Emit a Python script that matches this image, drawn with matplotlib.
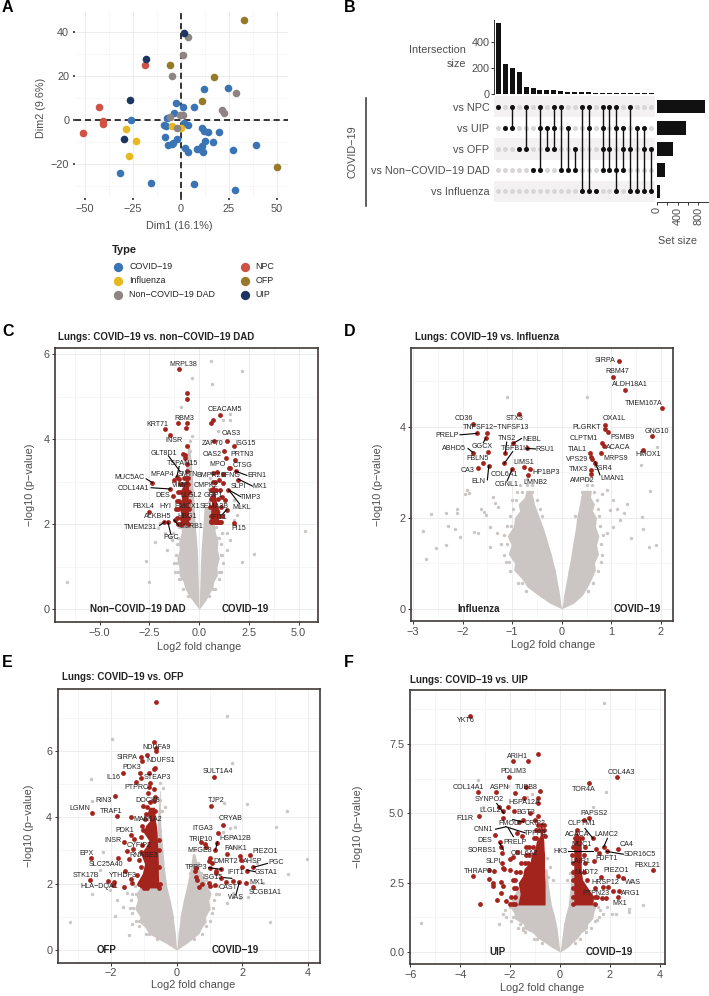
import numpy as np
import matplotlib
matplotlib.use('Agg')
import matplotlib.pyplot as plt
from matplotlib.ticker import MultipleLocator

plt.rcParams['font.family'] = ['Liberation Sans', 'DejaVu Sans']
plt.rcParams['axes.unicode_minus'] = True

W, H = 709, 996
GREY = '#cbc6c3'
RED = '#a3231d'
TXT = '#4d4d4d'

# panel A, PCA scores
pca_types = ['COVID\u221219', 'Influenza', 'Non\u2212COVID\u221219 DAD', 'NPC', 'OFP', 'UIP']
pca_colors = ['#3b74b5', '#e8b820', '#8d8583', '#cf5247', '#97792a', '#1c3661']
pca_x = [
    [12.2, 24.8, 1.0, 6.8, -2.6, -3.5, -26, -7.3, -8.9, -7.8, -8.3, -2.1, -6.4, -4.7, -3.8, 2.4, 4, 8.3, 10, 11.5,
     10.9, 12.5, 16.7, 20.1, 14.4, 11.3, 12.3, 3.6, 1.9, 39.2, 27.1, -31.8, -15.3, 6.9, 28.1],
    [-28.6, -23.4, -27.1, -4.3, 0.2],
    [4, 1, -4.5, 29, 21.4, 22.4, -5.6, 1.4, -0.3, -2.1],
    [-18.8, -42.5, -40.3, -40.6, -50.9],
    [33, -5.7, 17.5, 11.3, 50.3],
    [-18, 1.7, -26.6, -29.5],
]
pca_y = [
    [13.9, 14.5, 6.0, 5.7, 7.5, 3.3, 0, 0.9, -2.3, -2.7, -7.7, -8.7, -11.5, -10.9, -10.3, -12.8, -14.5, -13.3, -13.1, -14.5,
     -11.6, -9.4, -10.1, -5.6, -5.6, -3.6, -4.8, -2.1, -1.2, -11.2, -13.4, -23.8, -28.4, -29.1, -31.5],
    [-3.9, -9.5, -16.3, -2.6, -3.8],
    [37.7, 29.3, 19.9, 12.1, 4.4, 3.3, 1.5, 2.1, 2.3, -3.8],
    [24.9, 5.7, -0.3, -1.8, -5.7],
    [45.2, 25, 19.3, 8.4, -21.3],
    [27.8, 39.5, 9, -8.4],
]

# panel B, upset plot
set_names = ['vs NPC', 'vs UIP', 'vs OFP', 'vs Non\u2212COVID\u221219 DAD', 'vs Influenza']
set_sizes = [920, 570, 315, 150, 50]
inter_sizes = [540, 225, 200, 165, 55, 45, 30, 30, 25, 18, 15, 12, 12, 10, 8, 8, 7, 7, 6, 5, 5, 4, 3]
inter_members = [[0], [1], [0, 1], [2], [0, 2], [3], [0, 1, 3], [1, 2], [0, 1, 2], [0, 3], [1, 3], [2, 3],
                 [0, 4], [0, 1, 4], [4], [0, 1, 2, 3], [0, 2, 3], [0, 1, 3, 4], [1, 2, 3], [0, 2, 4], [1, 4],
                 [1, 2, 4], [2, 4]]

# panel C, volcano
c_grey_x = [.59, 2.14, -.35, .65, -.89, 1.56, 1.2, 1.56, .95, -.37, -.45, 5.34, 2.78, 2.14, -2.65, -6.65, -2.51, -2.21,
            1.93, 2.03, 1.73, -1.96, -2.06, -1.71, -1.46, -1.62, -1.37, -1.29, 1.56, 1.39, 1.14, 1.39, 1.73]
c_grey_y = [5.85, 5.61, 5.44, 5.30, 4.75, 4.59, 4.45, 4.45, 4.2, 4.08, 3.95, 1.85, 1.29, 1.11, 1.13, .64, .65, 1.58,
            2.22, 2.44, 2.57, 2.02, 1.91, 1.79, 1.71, 1.4, 1.63, 1.79, 1.63, 1.4, 1.79, 1.79, 2.1]
c_grey_rows = {.32: [-.55, -.48, .52], .47: [-.82, .8, .72], .71: [-1.03, -.94, 1.0], .88: [-1.2, -1.07, 1.12, 1.02],
               1.1: [-1.25, -1.13, 1.2], 1.27: [-1.16, 1.09, 1.17], 1.53: [-1.12, -.99, 1.1], 1.68: [-1.05, .91, 1.01],
               1.93: [-1.0, -.87, .84], 2.2: [-.48, .42, .78, .86], 2.52: [-.43, .48], 2.83: [-.4, .5],
               3.1: [-.46, .55], 3.4: [-.45], 3.72: [-.47]}
c_red_x = [-1.02, -.59, -.6, -1.07, -.6, -.64, -1.73, -1.47, -.62, -.79, -.69, -.7, -.59, -1.12, -1.26, -1.02, -2.35,
           -1.44, -1.31, -2.5, -1.74, -1.54, -1.22, 1.07, .72, .59, .75, 1.39, 1.73, 1.27, 1.37, 1.81, 1.49, 1.55,
           .69, .92, 1.22, 1.83, 1.98, 1.02, 1.22, .72, 1.06, 1.47, 1.14, .64, 1.32, 1.39, 1.74, .59, .75, 1.11, .89]
c_red_y = [5.65, 5.10, 4.95, 4.38, 4.38, 4.27, 4.24, 4.09, 3.83, 3.65, 3.63, 3.55, 3.42, 3.12, 3.04, 3.07, 2.98,
           2.83, 2.67, 2.30, 2.05, 2.05, 2.10, 4.57, 4.45, 4.38, 3.95, 3.97, 3.85, 3.73, 3.57, 3.51, 3.33, 3.33,
           3.2, 3.22, 3.18, 3.25, 3.04, 3.04, 2.96, 2.82, 2.81, 2.81, 2.63, 2.63, 2.56, 2.34, 2.02, 2.08, 2.08, 2.05, 2.18]
c_red_rows = {2.0: [-1.05, -.95, -.85, -.55], 2.15: [-1.1, -.9, -.55], 2.35: [-1.15, -1.08, -.52], 2.55: [-1.1, -1.0, -.52], 2.75: [-1.05, -.98, -.52],
              2.95: [-.95, -.85, -.55], 3.1: [-.75, -.65, -.55], 3.25: [-.6], 2.05: [1.05, .95, .85, .6], 2.2: [1.15, 1.0, .6], 2.4: [1.1, .55],
              2.6: [.95, .6], 2.8: [.85, .62], 3.0: [.7, .8]}
c_cloud = {'y': [0, .2, .35, .5, .65, .8, 1.0, 1.2, 1.4, 1.6, 1.8, 2.0, 2.5, 3.0, 3.5, 3.9],
           'lo': [0, -.32, -.55, -.72, -.8, -1.0, -1.02, -1.12, -1.0, -1.02, -.9, -.88, -.75, -.7, -.65, -.55],
           'li': [0, -.02, -.02, -.03, -.04, -.05, -.06, -.07, -.09, -.12, -.16, -.2, -.25, -.32, -.4, -.48],
           'ry': [0, .2, .35, .5, .65, .8, 1.0, 1.2, 1.4, 1.6, 1.8, 2.0, 2.4],
           'ri': [0, .02, .02, .03, .04, .05, .06, .08, .1, .13, .16, .2, .25],
           'ro': [0, .32, .5, .68, .74, .92, .9, 1.02, .92, .95, .82, .78, .6]}
c_dense = {'ly': [2.0, 2.2, 2.4, 2.6, 2.8, 3.0, 3.1], 'lo': [-.98, -.9, -1.0, -.88, -.92, -.72, -.62],
           'li': [-.52, -.54, -.52, -.55, -.52, -.54, -.52],
           'ry': [2.0, 2.15, 2.3, 2.45, 2.6, 2.75, 2.9], 'ri': [.58, .62, .58, .62, .62, .66, .66], 'ro': [1.08, .95, 1.05, .9, .85, .8, .76]}
c_labels = [('MRPL38', -.8, 5.76), ('CEACAM5', 1.29, 4.69), ('RBM3', -.75, 4.5), ('KRT71', -2.09, 4.35), ('OAS3', 1.62, 4.13),
            ('INSR', -1.26, 3.97), ('ZAP70', .67, 3.89), ('ISG15', 2.36, 3.89), ('GLT8D1', -1.78, 3.66), ('OAS2', .64, 3.65),
            ('PRTN3', 2.16, 3.65), ('TSPAN15', -.85, 3.43), ('MPO', .94, 3.4), ('CTSG', 2.16, 3.38), ('MFAP4', -1.86, 3.18),
            ('SMTN', -.55, 3.18), ('BMPR2', .5, 3.15), ('EFNG', 1.59, 3.14), ('ERN1', 2.9, 3.14), ('MUC5AC', -3.5, 3.1),
            ('COL14A1', -3.3, 2.85), ('VIMP', -.9, 2.92), ('CMPK2', .36, 2.92), ('SLPI', 1.96, 2.89), ('MX1', 3.07, 2.89),
            ('DES', -1.83, 2.67), ('LLGL2', -.39, 2.67), ('GRP1', .72, 2.67), ('TIMP3', 2.58, 2.64), ('FBXL4', -2.81, 2.42),
            ('HYI', -1.68, 2.43), ('HMOX1', -.6, 2.43), ('SEMA3B', .74, 2.42), ('MLKL', 2.13, 2.4), ('ALKBH5', -2.09, 2.18),
            ('HBG1', -.62, 2.18), ('IFIT1', .97, 2.16), ('TMEM231', -2.93, 1.93), ('LILRB1', -.39, 1.94), ('PI15', 1.99, 1.9),
            ('PGC', -1.42, 1.69)]
c_links = [(-1.54, 3.61, -.95, 3.24), (-1.0, 3.36, -1.12, 3.12), (-2.66, 3.07, -2.35, 2.98), (-2.41, 2.86, -1.44, 2.83),
           (2.4, 3.15, 1.83, 3.25), (2.68, 2.9, 1.98, 3.06), (2.09, 2.65, 1.56, 2.79), (2.03, 2.48, 1.49, 2.81),
           (-1.99, 1.97, -1.74, 2.05), (-1.42, 1.77, -1.57, 2.05), (-1.04, 1.98, -1.26, 2.1), (1.19, 2.24, 1.39, 2.35)]

# panel D, volcano
d_grey_x = [-1.1, .51, -2.79, -2.73, -2.63, -2.34, -2.11, -2.11, -2.53, -2.3, -2.34, -2.16, -2.05, -1.92, -1.95, -1.88, -1.77,
            -1.68, -1.62, -1.57, -1.52, -1.38, -1.35, -1.28, -1.45, -1.31, -1.45, 1.59, 1.93, 1.78, 1.62, 1.64, 1.39, 1.76,
            1.91, 1.11, 1.18, 1.31, 1.25, 1.04, 1.04, .91, .98, .81, .91]
d_grey_y = [4.64, 4.66, 1.71, 1.1, 2.09, 2.1, 2.2, 2.11, 1.33, 1.82, 1.41, 1.74, 1.58, 2.61, 2.53, 2.55, 1.69,
            1.67, 2.2, 2.13, 2.06, 2.46, 2.32, 2.24, 1.8, 1.66, 1.36, 3.16, 3.55, 2.59, 2.02, 1.76, 1.56, 1.36,
            1.41, 2.2, 1.95, 2.31, 2.1, 2.39, 1.8, 1.66, 2.17, 2.53, 2.61]
d_grey_rows = {.38: [-.72, .53], .57: [-.88, -.8, .64], .83: [-1.04, .74], 1.02: [-1.13, -1.06, .8],
               1.18: [-1.17, .82], 1.42: [-1.22, -1.1, .8], 1.63: [-1.16, .83], 1.82: [-1.1, -1.03, .78],
               2.03: [-1.05, -.4, .76, .26], 2.18: [-.99, -.44, .73], 2.38: [-1.0, -.92, -.5, .72], 2.57: [-.9, -.8, -.6, .66, .5, .4],
               2.72: [-.84, -.7, -.6, .62, .5], 2.86: [-.7, .55, .45]}
d_red_x = [1.16, 1.04, 1.28, 2.02, -.86, -1.78, .88, .88, .94, 1.82, -1.71, -1.51, -1.53, -.98, -.71, .81, .85, 1.64, .79,
           -1.79, -1.48, -1.14, .57, .59, .62, .67, -1.58, -1.16, -1.47, -1.69, -.77, -1, -.65, .59, -.69, .59]
d_red_y = [5.45, 5.10, 4.81, 4.41, 4.28, 4.06, 4.04, 3.95, 3.88, 3.80, 3.85, 3.87, 3.75, 3.63, 3.52, 3.65, 3.58, 3.49, 3.42,
           3.43, 3.45, 3.41, 3.41, 3.34, 3.28, 3.21, 3.2, 3.19, 3.14, 3.09, 3.11, 3.06, 3.06, 3.05, 2.94, 2.95]
d_cloud = {'y': [0, .12, .3, .48, .65, .85, 1.0, 1.2, 1.4, 1.6, 1.8, 2.0, 2.15, 2.3, 2.45, 2.6],
           'lo': [0, -.24, -.48, -.7, -.8, -.97, -.95, -1.08, -1.02, -1.1, -.98, -.95, -.85, -.88, -.75, -.72],
           'li': [0, -.02, -.04, -.07, -.1, -.13, -.17, -.21, -.27, -.32, -.38, -.45, -.5, -.55, -.58, -.62],
           'ry': [0, .12, .3, .48, .65, .85, 1.0, 1.2, 1.4, 1.6, 1.8, 2.0, 2.15, 2.3, 2.45, 2.6],
           'ri': [0, .02, .04, .07, .1, .13, .16, .19, .22, .25, .28, .3, .33, .36, .38, .42],
           'ro': [0, .24, .42, .52, .6, .68, .66, .74, .7, .75, .68, .7, .62, .66, .58, .6]}
d_labels = [('SIRPA', .88, 5.45), ('RBM47', 1.12, 5.21), ('ALDH18A1', 1.37, 4.92), ('TMEM167A', 1.66, 4.51), ('STX3', -.96, 4.17),
            ('CD36', -1.97, 4.18), ('OXA1L', 1.05, 4.18), ('TNFSF12\u2212TNFSF13', -1.33, 3.97), ('PLGRKT', .51, 3.97), ('GNG10', 1.91, 3.9),
            ('PRELP', -2.32, 3.81), ('PSMB9', 1.23, 3.77), ('TNS2', -1.1, 3.74), ('NEBL', -.6, 3.72), ('CLPTM1', .45, 3.74),
            ('GGCX', -1.61, 3.56), ('ACACA', 1.14, 3.54), ('ABHD5', -2.18, 3.53), ('TGFB1I1', -.93, 3.51), ('RSU1', -.34, 3.5),
            ('TIAL1', .32, 3.5), ('HMOX1', 1.75, 3.38), ('MRPS9', 1.08, 3.3), ('FBLN5', -1.69, 3.3), ('VPS29', .3, 3.28),
            ('LIMS1', -.77, 3.22), ('SSR4', .83, 3.08), ('TMX3', .33, 3.05), ('CA3', -1.9, 3.03), ('HP1BP3', -.32, 3.0),
            ('COL6A1', -1.16, 2.95), ('LMAN1', 1.02, 2.85), ('AMPD2', .42, 2.82), ('ELN', -1.68, 2.8), ('LMNB2', -.53, 2.78),
            ('CGNL1', -1.12, 2.73)]
d_links = [(-2.05, 3.82, -1.71, 3.85), (-1.89, 3.52, -1.79, 3.43), (-1.58, 3.65, -1.53, 3.75), (-1.11, 3.66, -1.14, 3.41),
           (-.81, 3.74, -.98, 3.63), (-.99, 3.45, -1.16, 3.19), (-.53, 3.51, -.71, 3.52), (-1.5, 2.83, -1.47, 3.14),
           (-1.1, 2.81, -1, 3.06), (.77, 2.94, .67, 3.23)]

# panel E, volcano
e_grey_x = [-1.97, -2.62, 1.68, 1.52, 2.15, 1.44, 3.35, 3.02, 3.98, 3.4, 2.85, -3.25, -1.88, -2.58, -2.58, -2.24, 1.78, 1.63,
            1.73, 1.42, 1.73, 2.44, 2.64, 2.18, 1.93, 1.73, 1.52, -.51, -.41, -.51, -.36, -1.47, -1.37, -1.63, -1.83, -1.52, -2.34, -2.03]
e_grey_y = [6.34, 5.15, 5.64, 7.05, 4.4, 4.44, 4.2, 3.71, 2.75, 2.29, .85, .85, 1.03, 1.69, 4.49, 2.95, 3.71, 3.66,
            3.39, 3.56, 3.11, 2.61, 2.01, 1.61, 1.56, 1.71, 1.41, 5.02, 4.87, 4.52, 4.32, .45, .8, 1.31, 1.51, 1.71, 2.41, 1.81]
e_grey_rows = {.32: [-.6, .54], .48: [-.95, -.86, .78], .72: [-1.15, .9], .88: [-1.25, -1.16, 1.0],
               1.12: [-1.35, 1.08], 1.28: [-1.42, -1.32, 1.12], 1.52: [-1.4, 1.15],
               1.68: [-1.35, -1.25, 1.2, 1.3], 1.92: [-1.28, 1.1, 1.25], 2.12: [-.48, .9],
               2.32: [.75, .42], 2.62: [-.46, .55, .65], 3.02: [-.48, .55], 3.3: [-.5],
               3.62: [-.5], 3.92: [-.54], 4.2: [-.52, -.45]}
e_red_x = [-.64, -.69, -.63, -.62, -.92, -1.08, -1.06, -.7, -.67, -.84, -1.11, -1.65, -1.08, -1.23, -.81, -.86, -.7, -.87, -1.89, -.66, -1.03,
           -2.59, -1.82, -1.39, 1.14, 1.04, 1.4, 1.27, .73, .87, .89, 1.18, 1.23, 1.54, 2.23, 1.93, 1.96, 1.0, .98, 1.09,
           1.99, 2.34, 2.14, 1.03, 1.35, 1.2, 1.2, .58, .57, .6, .63, 1.35, 1.73, 1.5, 2.1, 1.91, 2.34, .68, .78, .97, 1.01, 1.17,
           -1.38, -1.29, -1.61, -1.32, -1.52, -1.78, -1.45, -2.6, -1.58, -2.63, -2.1, -1.9, -1.93, -1.62, -1.39, -1.37]
e_red_y = [7.47, 6.25, 6.07, 5.98, 5.88, 5.8, 5.7, 5.46, 5.48, 5.32, 5.33, 5.34, 5.17, 5.05, 5.03, 4.91, 4.86, 4.72, 4.63, 4.6, 4.35,
           4.14, 4.04, 4.0, 5.22, 4.35, 3.77, 3.52, 3.24, 3.19, 3.09, 3.0, 3.21, 2.9, 2.87, 2.83, 2.7, 2.76, 2.68, 2.61,
           2.5, 2.49, 2.39, 2.46, 2.43, 2.37, 2.31, 2.46, 2.39, 2.19, 2.11, 2.18, 2.09, 2.05, 2.01, 2.04, 1.89, 1.89, 1.99, 2.01, 1.93, 1.95,
           3.46, 3.33, 3.26, 3.03, 2.98, 2.78, 2.73, 2.77, 2.39, 2.1, 2.08, 2.06, 1.96, 1.9, 2.13, 2.01]
e_red_rows = {2.0: [-1.15, -.52], 2.25: [-1.2], 2.5: [-1.1, -.53], 2.7: [-1.15], 2.95: [-1.1], 3.15: [-1.05], 3.4: [-1.08], 3.6: [-1.02],
              3.75: [-1.05], 3.95: [-.98], 4.1: [-.95], 4.3: [-.92], 4.2: [-.75, -.65], 4.45: [-.8], 4.5: [-.68], 1.88: [-.9, -1.0, -.55],
              3.0: [-.53], 3.3: [-.55]}
e_cloud = {'y': [0, .2, .35, .5, .7, .85, 1.0, 1.25, 1.5, 1.7, 1.9, 2.5, 3.0, 3.4, 4.0, 4.8],
           'lo': [0, -.32, -.6, -.85, -.98, -1.15, -1.12, -1.28, -1.2, -1.25, -1.1, -.7, -.62, -.6, -.58, -.52],
           'li': [0, -.02, -.03, -.04, -.07, -.09, -.1, -.15, -.2, -.25, -.3, -.38, -.42, -.46, -.5, -.5],
           'ry': [0, .2, .35, .5, .7, .85, 1.0, 1.25, 1.5, 1.7, 1.9, 2.5, 2.9],
           'ri': [0, .02, .03, .04, .07, .09, .1, .15, .2, .25, .3, .42, .48],
           'ro': [0, .3, .5, .68, .78, .9, .88, 1.02, .98, 1.05, .95, .65, .55]}
e_dense = {'ly': [1.87, 2.05, 2.3, 2.6, 2.9, 3.1, 3.3, 3.55, 3.75, 3.9, 4.1, 4.3],
           'lo': [-1.12, -1.2, -1.05, -.98, -1.1, -.95, -.85, -1.02, -.95, -.82, -.9, -.85],
           'li': [-.55, -.55, -.56, -.56, -.57, -.58, -.59, -.6, -.62, -.65, -.66, -.68],
           'ry': [], 'ri': [], 'ro': []}
e_labels = [('NDUFA9', -.6, 6.09), ('SIRPA', -1.5, 5.8), ('NDUFS1', -.49, 5.72), ('PDK3', -1.36, 5.5), ('SULT1A4', 1.27, 5.37),
            ('IL16', -1.93, 5.18), ('STEAP3', -.6, 5.18), ('PTPRC', -1.24, 4.89), ('RIN3', -2.24, 4.5), ('DOCK8', -.89, 4.5),
            ('TJP2', 1.2, 4.5), ('LGMN', -2.97, 4.27), ('TRAF1', -1.99, 4.18), ('CRYAB', 1.63, 3.96), ('MAN1A2', -.88, 3.92),
            ('ITGA3', .79, 3.65), ('PDK1', -1.57, 3.61), ('HSPA12B', 1.78, 3.35), ('TRIP10', .75, 3.34), ('INSR', -1.95, 3.3),
            ('CYFIP2', -1.14, 3.16), ('FANK1', 1.8, 3.05), ('MFGE8', .71, 2.99), ('PIEZO1', 2.69, 2.97), ('EPX', -2.76, 2.91),
            ('RNASE3', -1.01, 2.84), ('SLC25A40', -2.15, 2.59), ('DMRT2', 1.48, 2.68), ('AHSP', 2.32, 2.66), ('PGC', 3.03, 2.65),
            ('TPPP3', .6, 2.49), ('GSTA1', 2.74, 2.34), ('IFIT1', 1.8, 2.34), ('STK17B', -2.77, 2.24), ('YTHDF3', -1.63, 2.24),
            ('ISG15', 1.08, 2.17), ('MX1', 2.44, 2.03), ('HLA\u2212DQA1', -2.37, 1.92), ('CAST', 1.57, 1.87), ('SCGB1A1', 2.7, 1.73),
            ('WAS', 1.81, 1.57)]
e_links = [(2.77, 2.61, 2.34, 2.49), (2.39, 2.36, 2.14, 2.41), (1.24, 3.26, 1.18, 3.0), (.97, 2.48, 1.37, 2.43),
           (1.44, 2.18, 1.68, 2.16), (1.81, 1.68, 1.91, 2.04)]

# panel F, volcano
f_grey_x = [1.76, -3.3, 1.84, 1.34, -5.57, -2.43, 3.34, 2.78, 2.78, 2.25, 2.1, -3.1, -2.07, -1.14, -1.34, -.27, -.47, -.4, -.53,
            .27, .4, -2.01, -1.74, -2.27, 1.54, 1.87, 1.74, 1.47, -1.47, -1.6, -1.34]
f_grey_y = [8.98, 6.2, 5.77, 5.22, 1.06, 1.01, 1.71, 1.45, 1.57, 1.39, 1.39, 5.24, 5.99, 5.7, 5.6, 2.6, 2.72, 3.08, 3.38,
            2.6, 2.84, 1.63, 1.51, 1.39, 1.63, 1.63, 1.39, 1.15, .79, 1.03, 1.09]
f_grey_rows = {.32: [-.72, .6], .48: [-1.05, -.92, .82], .72: [-1.4, 1.05], .88: [-1.7, -1.5, 1.25],
               1.12: [-1.95, 1.4], 1.28: [-2.15, -1.9, 1.55], 1.52: [-2.2, 1.62]}
f_red_x = [-3.6, -.87, -1.28, -1.89, -2.05, 2.29, 1.18, -1.38, -.8, -3.3, -2.58, -1.79, -1.46, -.9, -.9, -2.07, -2.45, -2.27, -1.84,
           -3.24, -2.27, .98, 1.18, -1.63, -1.2, -.87, -1.47, -1, -2.59, .67, 1.32, -.61, -1.74, -1.52, -2.39, -2.37, -2.34, -2.34,
           1.75, 2.31, 1.44, 1.87, 1.56, 1.35, 3.72, -2.65, -2.85, -3.48, 2.33, 2.53, 1.66, -2.86, -2.67, -2.7, -2.37, -2.27, -2.35,
           -2.54, -2.17, -3.2, 1.74, 1.94, 2.14, 2.35, 2.31, 1.86, 1.68, -2.3, -2.23, -2.01, -2.01, -1.87, -1.74]
f_red_y = [8.53, 7.16, 6.89, 6.88, 6.33, 6.31, 6.08, 5.97, 5.82, 5.77, 5.76, 5.75, 5.54, 5.55, 5.36, 5.24, 5.24, 5.1, 5.1,
           4.89, 4.84, 4.76, 4.84, 4.7, 5.0, 4.92, 4.76, 4.76, 4.22, 4.42, 4.1, 4.18, 4.28, 4.18, 3.98, 3.8, 3.56, 3.23,
           3.79, 3.7, 3.71, 3.63, 3.58, 3.3, 2.96, 2.93, 2.96, 2.74, 2.75, 2.68, 2.69, 2.62, 2.48, 2.39, 2.54, 2.39, 2.14,
           1.88, 1.85, 1.74, 2.33, 2.34, 2.21, 2.2, 2.0, 1.94, 1.94, 3.02, 2.98, 2.96, 3.34, 3.44, 3.62]
f_red_rows = {1.75: [-2.0, -1.9, -1.8, 1.4, .5], 2.0: [-1.95, -1.8, 1.4, 1.5, .5], 2.3: [-1.85, -1.78, 1.4, .52], 2.6: [-1.9, -1.8, 1.1, .52],
              2.9: [-1.75, -1.6, .95, .52], 3.2: [-1.55, -1.4, -1.3, 1.0, .5], 3.5: [-1.35, -1.25, .95, .48], 3.8: [-1.35, -1.25, -1.1, 1.0, .5],
              4.1: [-1.05, -.95, .9, .6, .75], 4.4: [-.95, -.85, -.65], 4.6: [-.9, -.75, -.65]}
f_cloud = {'y': [0, .2, .35, .5, .7, .85, 1, 1.2, 1.4, 1.7, 2.5, 3.0],
           'lo': [0, -.38, -.62, -.88, -1.1, -1.45, -1.45, -1.82, -1.85, -2.05, -1.6, -1.2],
           'li': [0, -.03, -.05, -.07, -.1, -.12, -.15, -.2, -.25, -.35, -.48, -.52],
           'ry': [0, .2, .35, .5, .7, .85, 1, 1.2, 1.4, 1.7, 2.5, 3.0],
           'ri': [0, .03, .05, .07, .1, .12, .14, .19, .24, .33, .42, .45],
           'ro': [0, .35, .5, .7, .85, 1.1, 1.1, 1.3, 1.35, 1.45, 1.0, .7]}
f_dense = {'ly': [1.7, 2.1, 2.5, 2.75, 3.0, 3.25, 3.5, 3.75, 4.0, 4.2, 4.4, 4.8],
           'lo': [-1.7, -1.6, -1.68, -1.5, -1.45, -1.2, -1.15, -1.0, -.95, -.8, -.8, -.72],
           'li': [-.6, -.6, -.6, -.62, -.62, -.62, -.62, -.64, -.65, -.68, -.7, -.74],
           'ry': [1.7, 2.0, 2.2, 2.6, 3.0, 3.5, 4.0, 4.3], 'ri': [.55, .55, .55, .55, .55, .55, .55, .6], 'ro': [1.3, 1.35, 1.2, .9, .85, .85, .85, .7]}
f_labels = [('YKT6', -3.78, 8.34), ('ARIH1', -1.71, 7.04), ('PDLIM3', -1.87, 6.5), ('COL4A3', 2.45, 6.48), ('COL14A1', -3.69, 5.94),
            ('ASPN', -2.42, 5.93), ('TUBB8', -1.34, 5.93), ('TOR4A', .96, 5.88), ('SYNPO2', -2.85, 5.5), ('HSPA12A', -1.42, 5.41),
            ('LLGL2', -2.81, 5.12), ('BGT3', -1.36, 5.04), ('PAPSS2', 1.35, 5.01), ('F11R', -3.81, 4.8), ('FMOD', -2.05, 4.65),
            ('CRIP2', -.98, 4.65), ('CLPTM1', .87, 4.62), ('CNN1', -3.07, 4.41), ('TPPP3', -1, 4.29), ('ACACA', .7, 4.23),
            ('LAMC2', 1.87, 4.24), ('DES', -3.01, 4.04), ('PRELP', -1.8, 3.95), ('MUC1', .88, 3.88), ('CA4', 2.67, 3.88),
            ('SORBS1', -3.11, 3.68), ('COL6A2', -1.44, 3.57), ('HK3', 0, 3.62), ('SDR16C5', 3.21, 3.51), ('FDFT1', 1.87, 3.38),
            ('SLPI', -2.67, 3.28), ('LAIR1', .8, 3.25), ('FBXL21', 3.52, 3.14), ('PIEZO1', 2.25, 2.96), ('NUDT2', 1.04, 2.88),
            ('THRAP3', -3.29, 2.92), ('WAS', 2.94, 2.51), ('HRSP12', 1.82, 2.5), ('ARG1', 2.83, 2.13), ('PTPN23', 1.44, 2.12),
            ('MX1', 2.39, 1.75)]
f_links = [(-2.59, 4.43, -2.17, 4.52), (-2.17, 4.52, -1.4, 4.3), (-2.54, 5.36, -2.25, 5), (-1.9, 4.78, -1.47, 4.69),
           (-2.07, 4.46, -1.87, 4.16), (-2.43, 3.94, -2.27, 3.68), (.33, 3.63, 1.31, 3.63), (1, 4.46, 1.32, 4.1),
           (1.9, 4.1, 1.75, 3.79), (2.54, 3.53, 1.87, 3.63)]


def px_axes(fig, left, top, right, bottom):
    return fig.add_axes([left / W, 1 - bottom / H, (right - left) / W, (bottom - top) / H])


def with_rows(xs, ys, rows):
    # adds the points read row by row to the ones read one by one
    out_x = list(xs)
    out_y = list(ys)
    for y, row in rows.items():
        out_x += row
        out_y += [y] * len(row)
    return out_x, out_y


def volcano(fig, box, xlim, ylim, xstep, ystep, xfmt, title, title_xy, grey, red, cloud, dense, labels, links, sides, xlab_xy, ylab_x):
    ax = px_axes(fig, *box)
    ax.set_xlim(xlim)
    ax.set_ylim(ylim)
    ax.xaxis.set_major_locator(MultipleLocator(xstep))
    ax.yaxis.set_major_locator(MultipleLocator(ystep))
    ax.xaxis.set_minor_locator(MultipleLocator(xstep / 2))
    ax.yaxis.set_minor_locator(MultipleLocator(ystep / 2))
    ax.xaxis.set_major_formatter(lambda v, p: xfmt.format(v).replace('-', '\u2212'))
    ax.yaxis.set_major_formatter(lambda v, p: ('{:.1f}' if ystep == 2.5 else '{:.0f}').format(v))
    ax.grid(True, which='major', color='#ececec', lw=0.7)
    ax.grid(True, which='minor', color='#f3f3f3', lw=0.5)
    ax.set_axisbelow(True)
    ax.tick_params(which='minor', length=0)
    ax.tick_params(which='major', length=2, width=0.7, color='#333333', labelsize=7.8, labelcolor=TXT, pad=2)
    for s in ax.spines.values():
        s.set_color('#3f3836')
        s.set_linewidth(1.2)
    ax.fill_betweenx(cloud['y'], cloud['lo'], cloud['li'], color=GREY, lw=0, zorder=2)
    ax.fill_betweenx(cloud['ry'], cloud['ri'], cloud['ro'], color=GREY, lw=0, zorder=2)
    ax.scatter(grey[0], grey[1], s=6, color=GREY, lw=0, zorder=2)
    if dense is not None:
        ax.fill_betweenx(dense['ly'], dense['lo'], dense['li'], color=RED, lw=0, zorder=3)
        if dense['ry']:
            ax.fill_betweenx(dense['ry'], dense['ri'], dense['ro'], color=RED, lw=0, zorder=3)
    ax.scatter(red[0], red[1], s=12, color=RED, lw=0, zorder=3)
    for x0, y0, x1, y1 in links:
        ax.plot([x0, x1], [y0, y1], color='black', lw=0.8, zorder=4)
    for name, x, y in labels:
        ax.text(x, y, name, fontsize=5.1, color='#222222', ha='center', va='center', zorder=5)
    for name, x in sides:
        ax.text(x, 0, name, fontsize=7, fontweight='bold', color='#222222', ha='center', va='center', zorder=5)
    fig.text(xlab_xy[0] / W, 1 - xlab_xy[1] / H, 'Log2 fold change', fontsize=7.8, color=TXT, ha='center', va='center')
    fig.text(ylab_x / W, 1 - (box[1] + box[3]) / 2 / H, '\u2212log10 (p\u2212value)', fontsize=7.8, color=TXT,
             rotation=90, ha='center', va='center')
    fig.text(title_xy[0] / W, 1 - title_xy[1] / H, title, fontsize=7, fontweight='bold', color='#222222', ha='left', va='center')
    return ax


fig = plt.figure(figsize=(W / 100, H / 100), dpi=100)

# panel A
ax = px_axes(fig, 75, 11.7, 288, 198)
ax.set_xlim(-55, 55.9)
ax.set_ylim(-35.3, 49)
ax.xaxis.set_major_locator(MultipleLocator(25))
ax.yaxis.set_major_locator(MultipleLocator(20))
ax.xaxis.set_minor_locator(MultipleLocator(12.5))
ax.yaxis.set_minor_locator(MultipleLocator(10))
ax.xaxis.set_major_formatter(lambda v, p: f'{v:.0f}'.replace('-', '\u2212'))
ax.yaxis.set_major_formatter(lambda v, p: f'{v:.0f}'.replace('-', '\u2212'))
ax.grid(True, which='major', color='#ececec', lw=0.7)
ax.grid(True, which='minor', color='#f4f4f4', lw=0.5)
ax.set_axisbelow(True)
ax.tick_params(which='minor', length=0)
ax.tick_params(which='major', length=1.2, width=1.1, color='#222222', labelsize=7.8, labelcolor=TXT, pad=3)
for s in ax.spines.values():
    s.set_visible(False)
ax.axhline(0, color='black', lw=1.1, ls=(0, (4, 2.5)), zorder=1)
ax.axvline(0, color='black', lw=1.1, ls=(0, (4, 2.5)), zorder=1)
for xs, ys, col in zip(pca_x, pca_y, pca_colors):
    ax.scatter(xs, ys, s=30, color=col, lw=0, zorder=3)
fig.text(179 / W, 1 - 225.5 / H, 'Dim1 (16.1%)', fontsize=7.8, color=TXT, ha='center', va='center')
fig.text(41.5 / W, 1 - 108 / H, 'Dim2 (9.6%)', fontsize=7.8, color=TXT, rotation=90, ha='center', va='center')

# legend of panel A, drawn in figure pixels
leg = fig.add_axes([0, 0, 1, 1], facecolor='none')
leg.set_xlim(0, W)
leg.set_ylim(H, 0)
leg.axis('off')
leg.text(112, 250, 'Type', fontsize=8, fontweight='bold', color='#222222', va='center')
leg_x = [118, 118, 118, 244.5, 244.5, 244.5]
leg_y = [266.5, 280.5, 294.5, 266.5, 280.5, 294.5]
for i in range(6):
    leg.scatter(leg_x[i], leg_y[i], s=45, color=pca_colors[i], lw=0)
    leg.text(leg_x[i] + 11, leg_y[i], pca_types[i], fontsize=6.4, color='#222222', va='center')

# panel B
ax_bar = px_axes(fig, 494.3, 20, 655, 93.7)
pos = np.arange(len(inter_sizes))
ax_bar.bar(pos, inter_sizes, width=0.72, color='#111111')
ax_bar.set_xlim(-0.57, 22.55)
ax_bar.set_ylim(0, 565)
ax_bar.set_xticks([])
ax_bar.set_yticks([0, 200, 400])
ax_bar.tick_params(axis='y', length=2, width=0.7, labelsize=7.8, labelcolor=TXT, pad=1.5, color='#333333')
for k in ['top', 'right', 'bottom']:
    ax_bar.spines[k].set_visible(False)
ax_bar.spines['left'].set_linewidth(0.7)
ax_bar.spines['left'].set_color('#333333')
fig.text(466 / W, 1 - 49.7 / H, 'Intersection', fontsize=7.8, color=TXT, ha='right', va='center')
fig.text(466 / W, 1 - 64.3 / H, 'size', fontsize=7.8, color=TXT, ha='right', va='center')

ax_m = px_axes(fig, 494.3, 96, 655, 202)
ax_m.set_xlim(-0.57, 22.55)
ax_m.set_ylim(4.5, -0.5)
for r in [0, 2, 4]:
    ax_m.axhspan(r - 0.5, r + 0.5, color='#f3f1f1', lw=0, zorder=0)
for c, members in enumerate(inter_members):
    ax_m.scatter([c] * 5, range(5), s=13, color='#d8d6d6', lw=0, zorder=1)
    ax_m.plot([c, c], [min(members), max(members)], color='#111111', lw=1.0, zorder=2)
    ax_m.scatter([c] * len(members), members, s=13, color='#111111', lw=0, zorder=3)
ax_m.set_xticks([])
ax_m.set_yticks(range(5))
ax_m.set_yticklabels(set_names)
ax_m.tick_params(axis='y', length=0, labelsize=7.8, labelcolor=TXT, pad=3.5)
for s in ax_m.spines.values():
    s.set_visible(False)

ax_s = px_axes(fig, 657, 96, 709, 202)
ax_s.barh(range(5), set_sizes, height=0.64, color='#111111')
ax_s.set_xlim(0, 1005)
ax_s.set_ylim(4.5, -0.5)
ax_s.set_yticks([])
ax_s.set_xticks([0, 200, 400, 600, 800])
ax_s.set_xticklabels(['0', '', '400', '', '800'], rotation=90)
ax_s.tick_params(axis='x', length=2, width=0.7, labelsize=7.8, labelcolor=TXT, pad=1.5, color='#333333')
for k in ['top', 'right', 'left']:
    ax_s.spines[k].set_visible(False)
ax_s.spines['bottom'].set_linewidth(0.7)
ax_s.spines['bottom'].set_color('#333333')
fig.text(677 / W, 1 - 240.5 / H, 'Set size', fontsize=7.8, color=TXT, ha='center', va='center')
leg.plot([365.7, 365.7], [98, 205.7], color='#333333', lw=1.1)
leg.text(352, 152, 'COVID\u221219', fontsize=7.8, color=TXT, rotation=90, ha='center', va='center')

# panels C to F
volcano(fig, (55, 348.3, 318.3, 622.3), (-7.24, 5.99), (-.306, 6.14), 2.5, 2, '{:.1f}',
        'Lungs: COVID\u221219 vs. non\u2212COVID\u221219 DAD', (58, 337.5),
        with_rows(c_grey_x, c_grey_y, c_grey_rows), with_rows(c_red_x, c_red_y, c_red_rows), c_cloud, c_dense, c_labels, c_links,
        [('Non\u2212COVID\u221219 DAD', -3.1), ('COVID\u221219', 2.31)], (199, 646.5), 30)
volcano(fig, (411, 348.3, 673.3, 621), (-3.04, 2.25), (-.27, 5.72), 1, 2, '{:.0f}',
        'Lungs: COVID\u221219 vs. Influenza', (415, 336.5),
        with_rows(d_grey_x, d_grey_y, d_grey_rows), (d_red_x, d_red_y), d_cloud, None, d_labels, d_links,
        [('Influenza', -1.68), ('COVID\u221219', 1.52)], (553, 645.5), 378)
volcano(fig, (57.7, 689.3, 320, 962.7), (-3.63, 4.37), (-.38, 7.85), 2, 2, '{:.0f}',
        'Lungs: COVID\u221219 vs. OFP', (62, 677),
        with_rows(e_grey_x, e_grey_y, e_grey_rows), with_rows(e_red_x, e_red_y, e_red_rows), e_cloud, e_dense, e_labels, e_links,
        [('OFP', -2.13), ('COVID\u221219', 1.78)], (193, 985), 29.5)
volcano(fig, (409.7, 690.3, 665, 964.3), (-6.03, 4.21), (-.44, 9.44), 2, 2.5, '{:.0f}',
        'Lungs: COVID\u221219 vs. UIP', (409.7, 680),
        with_rows(f_grey_x, f_grey_y, f_grey_rows), with_rows(f_red_x, f_red_y, f_red_rows), f_cloud, f_dense, f_labels, f_links,
        [('UIP', -2.51), ('COVID\u221219', 1.99)], (541.7, 987.5), 358)

# panel letters
letter_xy = {'A': (2, 8), 'B': (344, 8), 'C': (2, 332), 'D': (344, 332), 'E': (2, 662), 'F': (344, 662)}
for letter, (lx, ly) in letter_xy.items():
    fig.text(lx / W, 1 - ly / H, letter, fontsize=11.5, fontweight='bold', color='black', ha='left', va='center')

fig.savefig('out.png', dpi=100)
